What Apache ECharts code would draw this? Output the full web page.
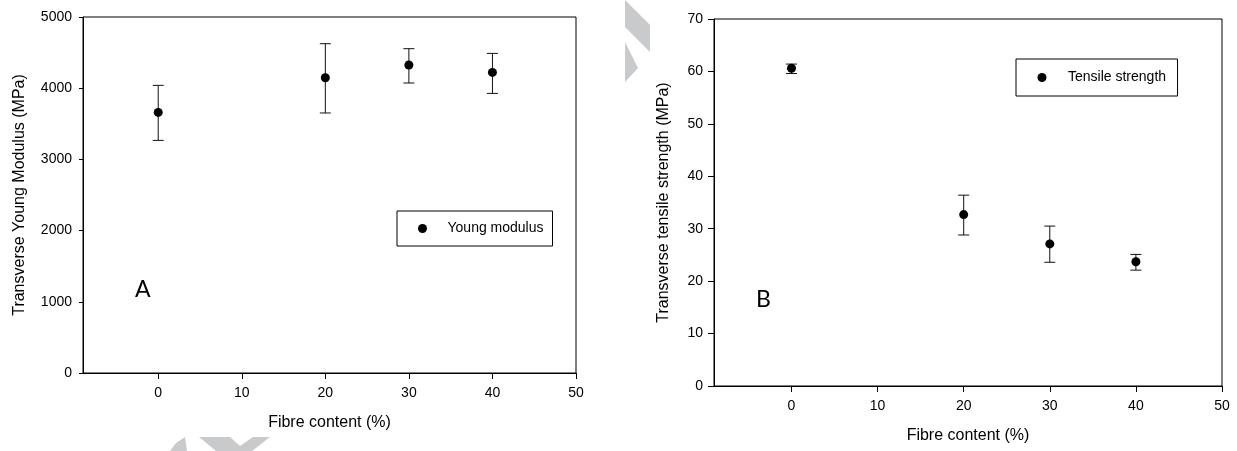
<!DOCTYPE html>
<html>
<head>
<meta charset="utf-8">
<script src="https://cdn.jsdelivr.net/npm/echarts@6/dist/echarts.min.js"></script>
<style>
  html, body { margin: 0; padding: 0; background: #fff; }
  #chart { width: 1237px; height: 451px; }
</style>
</head>
<body>
<div id="chart"></div>
<script>
  // values
  var fibre = [0, 20, 30, 40];
  var xTicks = [0, 10, 20, 30, 40, 50];

  var modulus = [3660, 4147, 4326, 4222];
  var modulusLow = [3267, 3652, 4073, 3927];
  var modulusHigh = [4040, 4625, 4555, 4489];

  var strength = [60.6, 32.7, 27.1, 23.7];
  var strengthLow = [59.6, 28.8, 23.6, 22.1];
  var strengthHigh = [61.4, 36.4, 30.5, 25.1];

  var font = "'Liberation Sans', Arial, sans-serif";

  function pairs(xs, ys) {
    return xs.map(function (x, i) { return [x, ys[i]]; });
  }
  function bars(xs, lo, hi) {
    return xs.map(function (x, i) { return [x, lo[i], hi[i]]; });
  }

  // vertical error bar with caps
  function errorBar(params, api) {
    var x = api.value(0);
    var pLo = api.coord([x, api.value(1)]);
    var pHi = api.coord([x, api.value(2)]);
    var w = 5.5;
    var st = { stroke: '#111', lineWidth: 1 };
    return {
      type: 'group',
      children: [
        { type: 'line', shape: { x1: pHi[0], y1: pHi[1], x2: pLo[0], y2: pLo[1] }, style: st },
        { type: 'line', shape: { x1: pHi[0] - w, y1: pHi[1], x2: pHi[0] + w, y2: pHi[1] }, style: st },
        { type: 'line', shape: { x1: pLo[0] - w, y1: pLo[1], x2: pLo[0] + w, y2: pLo[1] }, style: st }
      ]
    };
  }

  function xAxis(gridIndex) {
    return {
      type: 'value',
      gridIndex: gridIndex,
      min: -9,
      max: 50,
      name: 'Fibre content (%)',
      nameLocation: 'middle',
      nameGap: 42,
      nameTextStyle: { color: '#000', fontSize: 16, fontFamily: font },
      axisLine: { onZero: false, lineStyle: { color: '#000', width: 1 } },
      axisTick: { customValues: xTicks, length: 6, lineStyle: { color: '#000' } },
      axisLabel: { customValues: xTicks, margin: 13, color: '#000', fontSize: 14, fontFamily: font },
      splitLine: { show: false }
    };
  }

  function yAxis(gridIndex, name, max, interval, tickLen, gap) {
    return {
      type: 'value',
      gridIndex: gridIndex,
      min: 0,
      max: max,
      interval: interval,
      name: name,
      nameLocation: 'middle',
      nameGap: gap,
      nameTextStyle: { color: '#000', fontSize: 16, fontFamily: font },
      axisLine: { show: true, onZero: false, lineStyle: { color: '#000', width: 1 } },
      axisTick: { show: true, length: tickLen, lineStyle: { color: '#000' } },
      axisLabel: {
        margin: 11, color: '#000', fontSize: 14, fontFamily: font,
        formatter: function (v) { return String(v); }
      },
      splitLine: { show: false }
    };
  }

  var chart = echarts.init(document.getElementById('chart'));

  var option = {
    backgroundColor: '#fff',
    animation: false,
    grid: [
      { left: 83, top: 17, width: 493, height: 356, show: true, borderColor: '#000', borderWidth: 1 },
      { left: 714, top: 19, width: 508, height: 367, show: true, borderColor: '#000', borderWidth: 1 }
    ],
    xAxis: [xAxis(0), xAxis(1)],
    yAxis: [
      yAxis(0, 'Transverse Young Modulus (MPa)', 5000, 1000, 4, 55),
      yAxis(1, 'Transverse tensile strength (MPa)', 70, 10, 6, 42)
    ],
    legend: [
      {
        data: ['Young modulus'],
        left: 397, top: 211,
        orient: 'vertical',
        icon: 'circle', itemWidth: 9, itemHeight: 9,
        padding: [10.5, 9, 10.5, 21],
        borderColor: '#000', borderWidth: 1,
        itemStyle: { color: '#000', opacity: 1 },
        textStyle: { color: '#000', fontSize: 14, fontFamily: font, padding: [0, 0, 0, 15.5] }
      },
      {
        data: ['Tensile strength'],
        left: 1016, top: 59,
        orient: 'vertical',
        icon: 'circle', itemWidth: 9, itemHeight: 9,
        padding: [11.5, 11.5, 11.5, 21.5],
        borderColor: '#000', borderWidth: 1,
        itemStyle: { color: '#000', opacity: 1 },
        textStyle: { color: '#000', fontSize: 14, fontFamily: font, padding: [0, 0, 0, 16.5] }
      }
    ],
    graphic: [
      { type: 'text', left: 135, top: 278, style: { text: 'A', fontSize: 23, fontFamily: "Lato, 'Open Sans', sans-serif", fill: '#000' } },
      { type: 'text', left: 756, top: 288, style: { text: 'B', fontSize: 23, fontFamily: "Lato, 'Open Sans', sans-serif", fill: '#000' } },
      // faint watermark fragments
      { type: 'polygon', z: -1, shape: { points: [[625, 0], [650, 25], [650, 52], [625, 27]] }, style: { fill: '#c9cacc' } },
      { type: 'polygon', z: -1, shape: { points: [[625, 42], [638, 68], [625, 82]] }, style: { fill: '#c9cacc' } },
      { type: 'polygon', z: -1, shape: { points: [[170, 451], [176, 443], [185, 437], [187, 451]] }, style: { fill: '#c9cacc' } },
      { type: 'polygon', z: -1, shape: { points: [[199, 437], [230, 437], [240, 446], [253, 437], [270, 437], [252, 451], [216, 451]] }, style: { fill: '#c9cacc' } }
    ],
    series: [
      {
        name: 'Young modulus error',
        type: 'custom',
        xAxisIndex: 0, yAxisIndex: 0,
        renderItem: errorBar,
        encode: { x: 0, y: [1, 2] },
        data: bars(fibre, modulusLow, modulusHigh)
      },
      {
        name: 'Young modulus',
        type: 'scatter',
        xAxisIndex: 0, yAxisIndex: 0,
        symbol: 'circle', symbolSize: 9,
        itemStyle: { color: '#000', opacity: 1 },
        data: pairs(fibre, modulus)
      },
      {
        name: 'Tensile strength error',
        type: 'custom',
        xAxisIndex: 1, yAxisIndex: 1,
        renderItem: errorBar,
        encode: { x: 0, y: [1, 2] },
        data: bars(fibre, strengthLow, strengthHigh)
      },
      {
        name: 'Tensile strength',
        type: 'scatter',
        xAxisIndex: 1, yAxisIndex: 1,
        symbol: 'circle', symbolSize: 9,
        itemStyle: { color: '#000', opacity: 1 },
        data: pairs(fibre, strength)
      }
    ]
  };

  chart.setOption(option);
</script>
</body>
</html>
